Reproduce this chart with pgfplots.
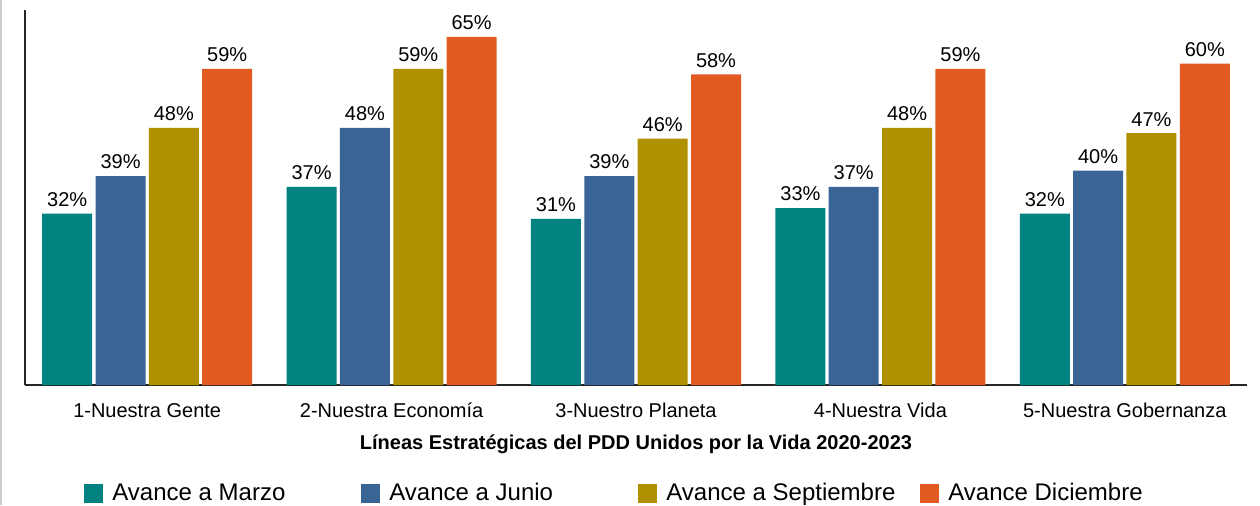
\documentclass[border=0pt]{standalone}
\usepackage{pgfplots}
\pgfplotsset{compat=1.18}
\usepackage{fontspec}
\setmainfont{Liberation Sans}
\definecolor{cTeal}{RGB}{0,130,128}
\definecolor{cBlue}{RGB}{58,100,150}
\definecolor{cGold}{RGB}{175,145,0}
\definecolor{cOrange}{RGB}{224,90,34}
\begin{document}
\begin{tikzpicture}
\path[use as bounding box] (0,0) rectangle (630pt,252.5pt);
\draw[black!20, line width=1pt] (0.5pt,0) -- (0.5pt,252.5pt);
\begin{axis}[
  at={(12.5pt,60pt)}, anchor=south west,
  scale only axis, width=611pt, height=187.5pt,
  ybar=1.67pt, bar width=25pt,
  xmin=-0.5, xmax=4.5, ymin=0, ymax=70,
  axis x line=bottom, axis y line=left,
  axis line style={-, black!85, line width=1pt},
  ytick=\empty,
  xtick=data,
  xticklabels={1-Nuestra Gente,2-Nuestra Econom\'ia,3-Nuestro Planeta,4-Nuestra Vida,5-Nuestra Gobernanza},
  major tick length=0pt,
  ticklabel style={font=\fontsize{10}{12}\selectfont, black},
  xticklabel style={yshift=-5.5pt},
  xlabel={L\'ineas Estrat\'egicas del PDD Unidos por la Vida 2020-2023},
  xlabel style={font=\fontsize{10}{12}\selectfont\bfseries, yshift=-1.5pt},
  /pgf/number format/assume math mode=true,
  nodes near coords={\pgfmathprintnumber{\pgfplotspointmeta}\%},
  every node near coord/.append style={font=\fontsize{10}{12}\selectfont, black},
  legend columns=4,
  legend style={at={(0.0483,-0.29)}, anchor=west, draw=none, inner sep=0pt,
    nodes={inner sep=0pt, font=\fontsize{12}{14}\selectfont},
    cells={anchor=west},
    /tikz/every even column/.append style={column sep=4.5pt}},
  legend image code/.code={\fill[#1,draw=none] (0pt,-4.75pt) rectangle (9.5pt,4.75pt);},
]
\addplot[fill=cTeal, draw=none] coordinates {(0,32) (1,37) (2,31) (3,33) (4,32)};
\addplot[fill=cBlue, draw=none] coordinates {(0,39) (1,48) (2,39) (3,37) (4,40)};
\addplot[fill=cGold, draw=none] coordinates {(0,48) (1,59) (2,46) (3,48) (4,47)};
\addplot[fill=cOrange, draw=none] coordinates {(0,59) (1,65) (2,58) (3,59) (4,60)};
\addlegendentry{\hspace*{4.5pt}\makebox[120pt][l]{Avance a Marzo}}
\addlegendentry{\hspace*{4.5pt}\makebox[120pt][l]{Avance a Junio}}
\addlegendentry{\hspace*{4.5pt}\makebox[122.5pt][l]{Avance a Septiembre}}
\addlegendentry{\hspace*{4.5pt}Avance Diciembre}
\end{axis}
\end{tikzpicture}
\end{document}
